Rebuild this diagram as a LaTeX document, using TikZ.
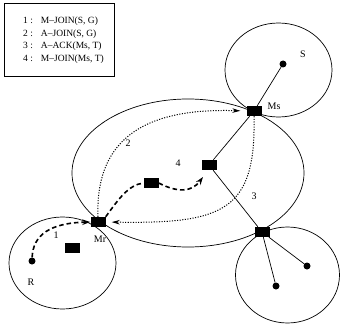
\documentclass[tikz,border=0pt]{standalone}
\usepackage{fontspec}
\setmainfont{Liberation Serif}
\usetikzlibrary{arrows.meta}
\begin{document}
\begin{tikzpicture}[x=1pt,y=-1pt,
  router/.style={fill=black,minimum width=15pt,minimum height=10pt,inner sep=0pt},
  host/.style={circle,fill=black,minimum size=7pt,inner sep=0pt},
  lbl/.style={font=\fontsize{10}{13.5}\selectfont,inner sep=0pt},
  legfont/.style={font=\fontsize{9.5}{12.5}\selectfont,inner sep=0pt},
  region/.style={line width=0.7pt},
  link/.style={line width=0.7pt},
  msgline/.style={line width=1.6pt,dash pattern=on 4.5pt off 3pt},
  msg/.style={msgline,-{Stealth[length=8pt,width=5.5pt]}},
  ctl/.style={line width=1pt,dash pattern=on 1.1pt off 1.5pt,-{Stealth[length=8pt,width=4.5pt]},shorten >=6pt}
]
\useasboundingbox (0,0) rectangle (340,329);
% regions
\draw[region] (188,173) ellipse [x radius=116pt, y radius=74pt];
\draw[region] (278.5,70) ellipse [x radius=53.5pt, y radius=47pt];
\draw[region] (287.5,275) ellipse [x radius=52pt, y radius=48pt];
\draw[region] (62.5,263) ellipse [x radius=53.5pt, y radius=46pt];
% legend
\node[draw,line width=0.7pt,minimum width=110pt,minimum height=73pt,anchor=north west,inner sep=0pt] (legbox) at (4,3) {};
\node[legfont,anchor=west] (legtext) at (23,40) {\begin{tabular}{@{}l@{\hspace{8pt}}l@{}}1 : & M--JOIN(S, G)\\ 2 : & A--JOIN(S, G)\\ 3 : & A--ACK(Ms, T)\\ 4 : & M--JOIN(Ms, T)\end{tabular}};
% routers and hosts
\node[router] (ms) at (254,111) {};
\node[router] (mr) at (98,222) {};
\node[router] (m4) at (209,165) {};
\node[router] (m1) at (151,183) {};
\node[router] (b1) at (72,248) {};
\node[router] (br) at (262,232) {};
\node[host] (s) at (283,64) {};
\node[host] (r) at (32,261) {};
\node[host] (h1) at (307,266) {};
\node[host] (h2) at (276,286) {};
\coordinate (t4) at (203,177);
% links
\draw[link] (ms) -- (s);
\draw[link] (ms) -- (m4);
\draw[link] (m4) -- (br);
\draw[link] (br) -- (h1);
\draw[link] (br) -- (h2);
% messages
\draw[msg] (r) .. controls (33,235) and (50,223) .. (mr.west);
\draw[msgline] (mr.north east) .. controls (118,200) and (128,185) .. (m1.west);
\draw[msg] (m1.east) .. controls (178,193) and (192,192) .. (t4);
\draw[ctl] (mr.north) .. controls (95,135) and (150,108) .. (ms.west);
\draw[ctl] (ms.south) .. controls (256,210) and (225,224) .. (mr.east);
% labels
\node[lbl] (l1) at (56,235) {1};
\node[lbl] (l2) at (128,143) {2};
\node[lbl] (l3) at (254,196) {3};
\node[lbl] (l4) at (178,163) {4};
\node[lbl] (lmr) at (100,239) {Mr};
\node[lbl] (lms) at (274,106) {Ms};
\node[lbl] (ls) at (303,54) {S};
\node[lbl] (lr) at (31,282) {R};
\end{tikzpicture}
\end{document}
